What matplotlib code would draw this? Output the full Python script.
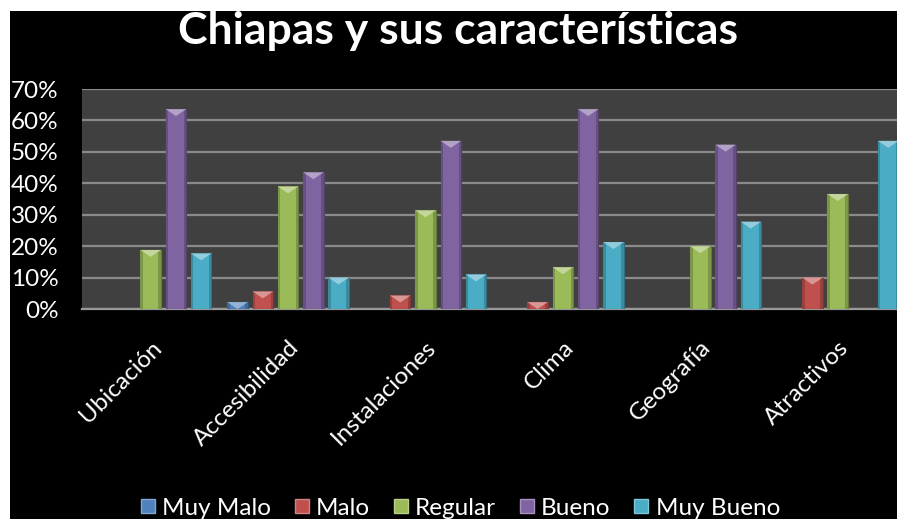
import matplotlib
matplotlib.use("Agg")
import matplotlib.pyplot as plt
import numpy as np
from matplotlib.patches import Rectangle, Polygon
from matplotlib.colors import to_rgb
from matplotlib.lines import Line2D

plt.rcParams['font.family'] = ['Lato', 'DejaVu Sans']

# ---- data ----
categories = ["Ubicación", "Accesibilidad", "Instalaciones", "Clima", "Geografía", "Atractivos"]
series_names = ["Muy Malo", "Malo", "Regular", "Bueno", "Muy Bueno"]
muy_malo  = [0.0, 2.2, 0.0, 0.0, 0.0, 0.0]
malo      = [0.0, 5.6, 4.3, 2.2, 0.0, 10.0]
regular   = [18.8, 39.0, 31.4, 13.3, 20.0, 36.6]
bueno     = [63.6, 43.5, 53.5, 63.6, 52.3, 0.0]
muy_bueno = [17.7, 10.0, 11.0, 21.3, 27.8, 53.5]
yticks = [0, 10, 20, 30, 40, 50, 60, 70]
title = "Chiapas y sus características"

series = [muy_malo, malo, regular, bueno, muy_bueno]
colors = ["#4F81BD", "#C0504D", "#9BBB59", "#8064A2", "#4BACC6"]

W, H = 897, 519
fig = plt.figure(figsize=(W / 100, H / 100), dpi=100, facecolor="white")
# black background with white strip at top & left
fig.patches.append(Rectangle((10 / W, 0), 1, 1 - 11 / H, transform=fig.transFigure,
                             facecolor="black", edgecolor="none", zorder=-10))

left_px, right_px, base_px, top_px = 82, 906.4, 309, 89
ax = fig.add_axes([left_px / W, (H - base_px) / H, (right_px - left_px) / W, (base_px - top_px) / H])
ax.set_facecolor("#404040")
ax.set_xlim(0, len(categories))
ax.set_ylim(0, 70)

step = 0.184
width = 0.149
x = np.arange(len(categories)) + 0.5

def lighten(c, f):
    r = np.array(to_rgb(c))
    return tuple(r + (1 - r) * f)

def darken(c, f):
    r = np.array(to_rgb(c))
    return tuple(r * (1 - f))

tri_h = 7 / (base_px - top_px) * 70
for i, (vals, col) in enumerate(zip(series, colors)):
    xs = x + (i - 2) * step
    bars = ax.bar(xs, vals, width=width, color=col, edgecolor=darken(col, 0.35),
                  linewidth=0.8, zorder=3, label=series_names[i])
    for b, v in zip(bars, vals):
        if v <= 0:
            b.set_visible(False)
            continue
        bx, bw, bh = b.get_x(), b.get_width(), b.get_height()
        th = min(tri_h, bh)
        # darker side bevels
        ax.add_patch(Rectangle((bx, 0), bw * 0.12, bh, facecolor=darken(col, 0.2),
                               edgecolor="none", zorder=4))
        ax.add_patch(Rectangle((bx + bw * 0.88, 0), bw * 0.12, bh, facecolor=darken(col, 0.2),
                               edgecolor="none", zorder=4))
        # light top bevel
        ax.add_patch(Polygon([(bx, bh), (bx + bw, bh), (bx + bw / 2, bh - th)],
                             closed=True, facecolor=lighten(col, 0.4), edgecolor="none", zorder=5))

ax.set_yticks(yticks)
ax.set_yticklabels([f"{t}%" for t in yticks], color="white", fontsize=17.5)
ax.tick_params(axis="y", length=0, pad=17)
ax.yaxis.grid(True, color="#8a8a8a", linewidth=1.6, zorder=1)
ax.set_axisbelow(True)
ax.set_xticks(x)
ax.set_xticklabels(categories, rotation=45, ha="right", va="top", rotation_mode="anchor",
                   color="white", fontsize=17.5)
ax.tick_params(axis="x", length=0, pad=20)
for s in ["top", "right", "left"]:
    ax.spines[s].set_visible(False)
ax.spines["bottom"].set_color("#9a9a9a")
ax.spines["bottom"].set_linewidth(1.6)

fig.text(0.511, 1 - 31 / H, title, color="white", fontsize=32, fontweight="bold",
         ha="center", va="center")

handles = [Line2D([], [], marker="s", linestyle="none", markersize=10,
                  markerfacecolor=c, markeredgecolor=lighten(c, 0.3)) for c in colors]
leg = fig.legend(handles, series_names, loc="center", bbox_to_anchor=(0.513, 1 - 508 / H),
                 ncol=5, frameon=False, fontsize=17.5, labelcolor="white",
                 handlelength=0.6, handletextpad=0.3, columnspacing=0.95)

fig.savefig("out.png", dpi=100, facecolor=fig.get_facecolor())
